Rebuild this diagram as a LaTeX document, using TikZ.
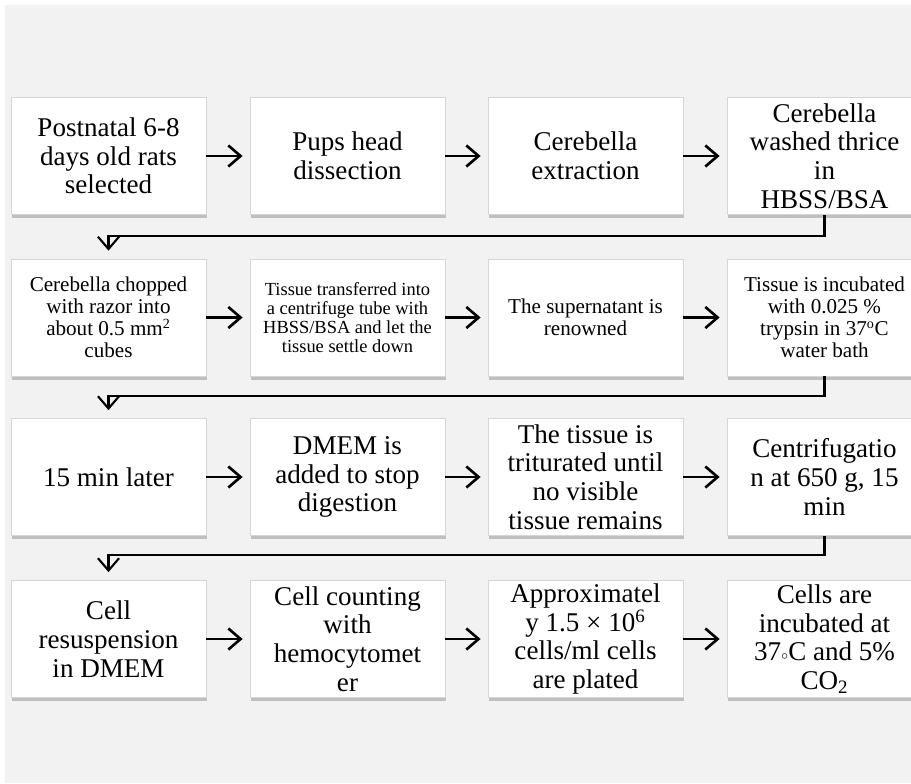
\documentclass[tikz,border=0pt]{standalone}
\usepackage{fontspec}
\setmainfont{Liberation Serif}
\usetikzlibrary{arrows.meta,shadows}

\definecolor{bggrey}{HTML}{F2F2F2}
\definecolor{boxline}{HTML}{D6D6D6}

\begin{document}
\begin{tikzpicture}[scale=1.0, >={Straight Barb[length=7pt,width=12pt]},
    stepbox/.style={draw=boxline, line width=0.4pt, fill=white,
        minimum width=3.9cm, minimum height=2.34cm, inner xsep=2pt, inner ysep=0pt,
        align=center,
        drop shadow={shadow xshift=0.5pt, shadow yshift=-2.2pt, fill=black!70, opacity=0.3}},
    txtbig/.style={font=\fontsize{15.4}{16.3}\selectfont},
    txtmid/.style={font=\fontsize{12}{12.5}\selectfont},
    txtsm/.style={font=\fontsize{10.5}{10.8}\selectfont},
    arr/.style={->, line width=1.5pt, shorten >=4pt},
    link/.style={->, line width=1.2pt}]
    \useasboundingbox (0,0) rectangle (18.22,15.66);
    \fill[bggrey] (0.1,0) rectangle (18.22,15.56);

    % row 1
    \node[stepbox, txtbig] (a1) at (2.17,12.54) {Postnatal 6-8\\days old rats\\selected};
    \node[stepbox, txtbig] (a2) at (6.95,12.54) {Pups head\\dissection};
    \node[stepbox, txtbig] (a3) at (11.71,12.54) {Cerebella\\extraction};
    \node[stepbox, txtbig] (a4) at (16.49,12.54) {Cerebella\\washed thrice\\in\\HBSS/BSA};

    % row 2
    \node[stepbox, txtmid] (b1) at (2.17,9.31) {Cerebella chopped\\with razor into\\about 0.5 mm\textsuperscript{2}\\cubes};
    \node[stepbox, txtsm] (b2) at (6.95,9.31) {Tissue transferred into\\a centrifuge tube with\\HBSS/BSA and let the\\tissue settle down};
    \node[stepbox, txtmid] (b3) at (11.71,9.31) {The supernatant is\\renowned};
    \node[stepbox, txtmid] (b4) at (16.49,9.31) {Tissue is incubated\\with 0.025 \%\\trypsin in 37\textsuperscript{o}C\\water bath};

    % row 3
    \node[stepbox, txtbig] (c1) at (2.17,6.12) {15 min later};
    \node[stepbox, txtbig] (c2) at (6.95,6.12) {DMEM is\\added to stop\\digestion};
    \node[stepbox, txtbig] (c3) at (11.71,6.12) {The tissue is\\triturated until\\no visible\\tissue remains};
    \node[stepbox, txtbig] (c4) at (16.49,6.12) {Centrifugatio\\n at 650 g, 15\\min};

    % row 4
    \node[stepbox, txtbig] (d1) at (2.17,2.88) {Cell\\resuspension\\in DMEM};
    \node[stepbox, txtbig] (d2) at (6.95,2.88) {Cell counting\\with\\hemocytomet\\er};
    \node[stepbox, txtbig] (d3) at (11.71,2.88) {Approximatel\\y 1.5 × 10\textsuperscript{6}\\cells/ml cells\\are plated};
    \node[stepbox, txtbig] (d4) at (16.49,2.88) {Cells are\\incubated at\\37{\scriptsize\raisebox{0.15ex}{$\circ$}}C and 5\%\\CO\textsubscript{2}};

    \draw[arr] (a1) -- (a2);
    \draw[arr] (a2) -- (a3);
    \draw[arr] (a3) -- (a4);
    \draw[arr] (b1) -- (b2);
    \draw[arr] (b2) -- (b3);
    \draw[arr] (b3) -- (b4);
    \draw[arr] (c1) -- (c2);
    \draw[arr] (c2) -- (c3);
    \draw[arr] (c3) -- (c4);
    \draw[arr] (d1) -- (d2);
    \draw[arr] (d2) -- (d3);
    \draw[arr] (d3) -- (d4);

    \draw[link] (a4.south) -- ++(0,-0.43) -| ([yshift=0.16cm]b1.north);
    \draw[link] (b4.south) -- ++(0,-0.40) -| ([yshift=0.16cm]c1.north);
    \draw[link] (c4.south) -- ++(0,-0.39) -| ([yshift=0.16cm]d1.north);
\end{tikzpicture}
\end{document}
